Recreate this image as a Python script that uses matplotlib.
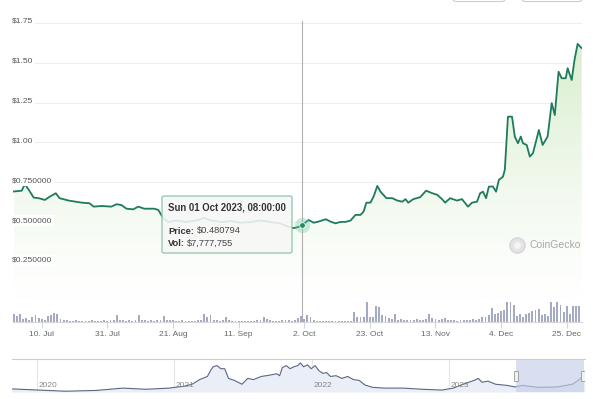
import numpy as np
import matplotlib
matplotlib.use('Agg')
import matplotlib.pyplot as plt
from matplotlib.colors import LinearSegmentedColormap
from matplotlib.patches import Rectangle, FancyBboxPatch
from matplotlib.lines import Line2D

plt.rcParams['font.family'] = ['Liberation Sans', 'DejaVu Sans']

# Price series, x = days since 1 Jul 2023
price_day = [0, 2.6, 3.6, 4.9, 6.4, 8.0, 10.0, 11.6, 13.5, 14.7, 17.6, 21.8, 24.3, 25.6, 28.1,
             31.3, 32.9, 34.5, 36.1, 38.3, 39.9, 41.8, 45.0, 46.3, 47.9,
             49.5, 52, 55.2, 58.4, 61, 63.2, 66.4, 69.6, 72.8, 76, 79, 82.3, 85.5, 88, 89.7,
             91.2, 92.33,
             94.4, 96.0, 97.6, 99.9, 101.4, 103.0, 104.6, 106.2, 107.8, 109.4,
             111.0, 112.0, 112.9, 114.2, 115.2, 116.4, 117.4, 119.3, 121.2, 122.8,
             124.4, 125.4, 126.3, 127.9, 130.1, 132.0, 134.0, 135.6, 137.1, 138.1,
             139.7, 141.9, 143.5, 145.4, 146.7, 148.3,
             149.3, 150.2, 151.2, 152.1, 153.4, 154.4, 155.3, 156.6, 157.2, 158.2,
             159.5, 160.4, 161.4, 162.3, 163.0, 164.2, 165.2, 166.2, 168.1, 169.3,
             170.9, 172.2, 173.2, 174.4, 175.4, 176.7, 177.3, 178.6, 179.5, 180.5, 181.8]
price = [0.692, 0.697, 0.738, 0.701, 0.654, 0.650, 0.639, 0.660, 0.681, 0.650, 0.635, 0.622, 0.618, 0.597, 0.601,
         0.597, 0.612, 0.607, 0.584, 0.580, 0.597, 0.584, 0.584, 0.576, 0.524,
         0.50, 0.51, 0.50, 0.51, 0.526, 0.51, 0.50, 0.506, 0.496, 0.50, 0.51, 0.50, 0.49, 0.47, 0.462,
         0.47, 0.481,
         0.513, 0.496, 0.503, 0.518, 0.503, 0.492, 0.501, 0.501, 0.509, 0.545,
         0.545, 0.566, 0.622, 0.622, 0.660, 0.727, 0.691, 0.650, 0.650, 0.635,
         0.628, 0.644, 0.622, 0.644, 0.656, 0.697, 0.681, 0.671, 0.644, 0.622,
         0.650, 0.635, 0.644, 0.597, 0.622, 0.628,
         0.681, 0.691, 0.650, 0.723, 0.723, 0.691, 0.765, 0.785, 0.828, 1.162,
         1.162, 1.037, 0.995, 1.037, 0.995, 0.984, 0.911, 0.932, 1.078, 0.984,
         1.037, 1.247, 1.172, 1.444, 1.403, 1.403, 1.466, 1.392, 1.518, 1.619, 1.592]

# daily volume in million USD, day 0 = 1 Jul 2023
vol_musd = [10, 8, 11, 4, 5, 3, 6, 9, 5, 4, 3, 8, 9, 12,
            11, 4, 2, 2, 1.5, 1.5, 2, 1.5, 1.5, 1, 1.5, 2, 1.5, 1.5,
            1.5, 2, 1.5, 2, 2, 9, 3, 2, 1.5, 2, 1.5, 2, 9, 3,
            2, 1.5, 2, 1.5, 2, 3, 8, 3, 2, 2, 1.5, 1.5, 2, 1.5,
            1.5, 1.5, 1.5, 2, 2, 10, 6, 9, 3, 2, 1.5, 2, 7, 2,
            1.5, 1.5, 1.5, 1.5, 1.5, 1.5, 1.5, 1.5, 2, 2, 6, 4, 2, 1.5,
            1.5, 1.5, 2, 2, 2, 1.5, 3, 5, 7.8, 4, 9, 6, 3, 1.5,
            1, 1, 1, 1, 1, 1, 1, 1, 1, 1, 1, 13, 6, 7,
            6, 27, 6, 7, 21, 20, 9, 8, 5, 4, 10, 3, 4, 3,
            3, 2, 3, 4, 3, 2, 4, 10, 5, 4, 3, 4, 5, 3,
            3, 2, 1.5, 2, 2, 3, 2, 4, 3, 4, 7, 6, 9, 18,
            10, 12, 14, 15, 60, 45, 22, 8, 11, 7, 10, 12, 14, 15,
            17, 9, 10, 8, 40, 20, 44, 22, 13, 21, 10, 21, 21, 21]

tick_dates = ['2023-07-10', '2023-07-31', '2023-08-21', '2023-09-11', '2023-10-02',
              '2023-10-23', '2023-11-13', '2023-12-04', '2023-12-25']
tick_labels = ['10. Jul', '31. Jul', '21. Aug', '11. Sep', '2. Oct',
               '23. Oct', '13. Nov', '4. Dec', '25. Dec']
ytick_vals = [0.25, 0.5, 0.75, 1.0, 1.25, 1.5, 1.75]
ytick_labels = ['$0.250000', '$0.500000', '$0.750000', '$1.00', '$1.25', '$1.50', '$1.75']

# navigator (all-time history), x in fractional years
nav_year = [2019.815, 2020.011, 2020.206, 2020.430, 2020.626, 2020.794, 2020.962, 2021.074, 2021.130,
            2021.185, 2021.241, 2021.264, 2021.283, 2021.311, 2021.339, 2021.367, 2021.395, 2021.437,
            2021.493, 2021.535, 2021.577, 2021.633, 2021.689, 2021.745, 2021.767, 2021.787, 2021.815,
            2021.843, 2021.871, 2021.899, 2021.918, 2021.941, 2021.969, 2021.997, 2022.025, 2022.053,
            2022.081, 2022.109, 2022.137, 2022.178, 2022.220, 2022.262, 2022.304, 2022.346, 2022.388,
            2022.444, 2022.528, 2022.668, 2022.808, 2022.948, 2023.032, 2023.088, 2023.143, 2023.185,
            2023.213, 2023.241, 2023.283, 2023.339, 2023.423, 2023.479, 2023.535, 2023.647, 2023.787,
            2023.899, 2023.941, 2023.969, 2023.988]
nav_price = [0.32, 0.20, 0.08, 0.16, 0.40, 0.28, 0.40, 0.60, 0.80,
             1.28, 1.60, 2.20, 2.60, 2.72, 2.40, 2.40, 1.40, 1.20,
             0.80, 1.40, 1.28, 1.60, 1.72, 1.88, 1.68, 2.52, 2.72,
             2.40, 2.60, 2.72, 3.00, 2.60, 2.80, 2.40, 2.72, 2.20,
             1.92, 2.00, 1.60, 1.68, 1.40, 1.60, 1.28, 1.20, 0.72,
             0.48, 0.40, 0.40, 0.28, 0.20, 0.40, 0.72, 1.00, 1.20,
             1.40, 1.00, 1.12, 0.80, 0.68, 0.52, 0.68, 0.48, 0.52,
             0.80, 1.20, 1.52, 1.28]
nav_years = [2020, 2021, 2022, 2023]

start = np.datetime64('2023-07-01')
tick_day = [int((np.datetime64(d) - start).astype(int)) for d in tick_dates]
vol_day = np.arange(len(vol_musd))

line_col = '#1d7c5b'
W, H = 600, 399
fig = plt.figure(figsize=(6, 3.99), dpi=100)

# main price chart, volume on a hidden twin axis underneath
ax = fig.add_axes([13 / W, 1 - 322 / H, 569 / W, 300.6 / H])
axv = ax.twinx()
axv.bar(vol_day, vol_musd, width=0.6, color='#a3aac2', zorder=1)
axv.set_ylim(0, 390)
axv.axis('off')
ax.set_zorder(axv.get_zorder() + 1)
ax.patch.set_visible(False)

for v in ytick_vals:
    ax.axhline(v, color='#eeeeee', lw=0.8, zorder=0)

cmap = LinearSegmentedColormap.from_list('fade', ['#ffffff', '#d6edcb'])
grad = np.linspace(0, 1, 256).reshape(-1, 1) ** 1.2
im = ax.imshow(grad, extent=(price_day[0], price_day[-1], 0.0, 1.76), origin='lower',
               aspect='auto', cmap=cmap, zorder=1)
poly = ax.fill_between(price_day, price, -0.13, color='none', lw=0)
im.set_clip_path(poly.get_paths()[0], transform=ax.transData)

ax.plot(price_day, price, color=line_col, lw=1.3, zorder=4, solid_joinstyle='round')

# hover crosshair + point
ax.axvline(92.33, color='#b0b0b0', lw=0.8, zorder=3)
ax.plot(92.33, 0.481, 'o', ms=11, color='#6cc79a', alpha=0.35, zorder=5, mew=0)
ax.plot(92.33, 0.481, 'o', ms=4, color='#1f8a60', mec='white', mew=0.5, zorder=6)

ax.set_xlim(-0.2, 181.9)
ax.set_ylim(-0.1275, 1.76)
ax.set_yticks([])
ax.set_xticks(tick_day)
ax.set_xticklabels(tick_labels)
ax.tick_params(axis='x', length=4, width=0.8, color='#ccd6eb', labelsize=6,
               labelcolor='#666666', pad=2.5)
for s in ['top', 'left', 'right']:
    ax.spines[s].set_visible(False)
ax.spines['bottom'].set_color('#d8d8d8')
ax.spines['bottom'].set_linewidth(0.8)

for v, lab in zip(ytick_vals, ytick_labels):
    ax.text(-0.002, v, lab, transform=ax.get_yaxis_transform(), ha='left', va='baseline',
            fontsize=6, color='#555555', zorder=7,
            bbox=dict(fc='white', ec='none', pad=1.2))

# tooltip
fig.add_artist(FancyBboxPatch((162 / W, 1 - 253 / H), 130 / W, 57 / H,
                              boxstyle='round,pad=0,rounding_size=0.004',
                              transform=fig.transFigure, fc='#f7f7f7', ec='#8cc4aa',
                              lw=1.0, alpha=0.88, zorder=10))
fig.text(168 / W, 1 - 207.5 / H, 'Sun 01 Oct 2023, 08:00:00', fontsize=6.9, fontweight='bold',
         color='#333333', va='center', ha='left', zorder=11)
fig.text(168 / W, 1 - 231 / H, 'Price:', fontsize=6.7, fontweight='bold', color='#333333',
         va='center', ha='left', zorder=11)
fig.text(197 / W, 1 - 231 / H, '$0.480794', fontsize=6.7, color='#444444',
         va='center', ha='left', zorder=11)
fig.text(168 / W, 1 - 243 / H, 'Vol:', fontsize=6.7, fontweight='bold', color='#333333',
         va='center', ha='left', zorder=11)
fig.text(187 / W, 1 - 243 / H, '$7,777,755', fontsize=6.7, color='#444444',
         va='center', ha='left', zorder=11)

# watermark
fig.add_artist(Line2D([517 / W], [1 - 245 / H], transform=fig.transFigure, marker='o',
                      ms=11, color='#e4e4e4', mec='#d6d6d6', zorder=2))
fig.add_artist(Line2D([517 / W], [1 - 245 / H], transform=fig.transFigure, marker='o',
                      ms=5, color='#f4f4f4', mew=0, zorder=2))
fig.text(530 / W, 1 - 245 / H, 'CoinGecko', fontsize=7.5, color='#a8a8a8', va='center',
         ha='left')

# top range buttons (cut off)
for x0, w in [(453, 52), (522, 60)]:
    fig.add_artist(FancyBboxPatch((x0 / W, 1 - 1.5 / H), w / W, 0.05,
                                  boxstyle='round,pad=0,rounding_size=0.006',
                                  transform=fig.transFigure, fc='white', ec='#cccccc', lw=0.8))

# navigator
nav = fig.add_axes([11.5 / W, 1 - 392 / H, 573.5 / W, 33 / H])
nav.fill_between(nav_year, nav_price, 0, color='#eaeff7', lw=0, zorder=1)
nav.plot(nav_year, nav_price, color='#5a6580', lw=0.8, zorder=2)
for yr in nav_years:
    nav.axvline(yr, color='#e6e6e6', lw=0.8, zorder=0)
    nav.text(yr + 0.012, 0.2, str(yr), transform=nav.get_xaxis_transform(),
             fontsize=6, color='#888888', va='center', ha='left', zorder=4)
nav.axvspan(2023.49, 2023.985, color='#c5cfe8', alpha=0.65, lw=0, zorder=3)
for xe in [2023.49, 2023.975]:
    nav.add_patch(Rectangle((xe - 0.015, 0.33), 0.03, 0.3, transform=nav.get_xaxis_transform(),
                            fc='#f2f2f2', ec='#999999', lw=0.6, zorder=5))
nav.set_xlim(2019.815, 2023.99)
nav.set_ylim(0, 3.4)
nav.set_xticks([])
nav.set_yticks([])
for s in ['bottom', 'left', 'right']:
    nav.spines[s].set_visible(False)
nav.spines['top'].set_color('#cccccc')
nav.spines['top'].set_linewidth(0.8)

fig.savefig('out.png', dpi=100)
